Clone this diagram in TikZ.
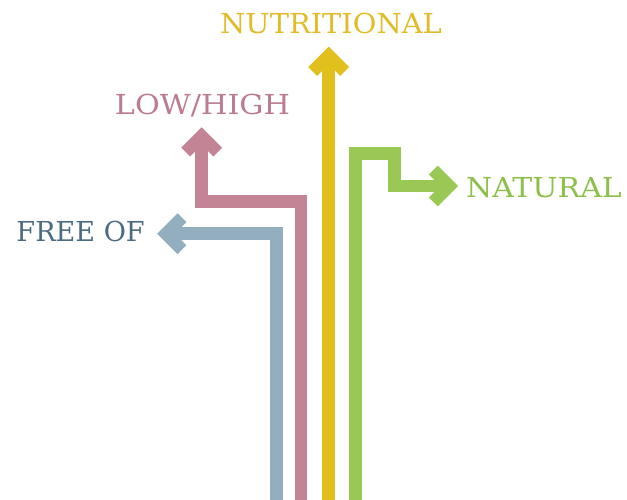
\documentclass[tikz,border=0pt]{standalone}
\usepackage{fontspec}
\setmainfont{DejaVu Serif}
\usetikzlibrary{calc}
\definecolor{cblue}{HTML}{93AEBF}
\definecolor{cpink}{HTML}{C38595}
\definecolor{cyellow}{HTML}{E1BF1C}
\definecolor{cgreen}{HTML}{99C954}
\definecolor{tblue}{HTML}{4B6B82}
\definecolor{tpink}{HTML}{BA7C8E}
\definecolor{tyellow}{HTML}{E0BC28}
\definecolor{tgreen}{HTML}{8DBF4A}
\tikzset{
  band/.style={line width=12.5pt, line join=miter, line cap=butt},
  lbl/.style={inner sep=0pt, font=\fontsize{27.5}{27.5}\selectfont},
}
\begin{document}
\begin{tikzpicture}[x=1pt,y=-1pt]
\useasboundingbox (0,0) rectangle (627,500);
% start points and tips
\coordinate (b0) at (276.7,500);
\coordinate (bt) at (166,233.7);
\coordinate (p0) at (301,500);
\coordinate (pc) at (201.7,201.7);
\coordinate (pt) at (201.7,136.1);
\coordinate (y0) at (328.7,500);
\coordinate (yt) at (328.7,55.5);
\coordinate (g0) at (355.3,500);
\coordinate (g1) at (394.7,153.7);
\coordinate (gt) at (449.3,186);
% labels
\node[lbl, text=tyellow, anchor=base] (nut) at (331,33.3) {\scalebox{1.05}[1]{NUTRITIONAL}};
\node[lbl, text=tpink, anchor=base] (low) at (202.5,115) {\scalebox{1.10}[1]{LOW/HIGH}};
\node[lbl, text=tgreen, anchor=base west] (nat) at (466,198) {\scalebox{1.09}[1]{NATURAL}};
\node[lbl, text=tblue, anchor=base east] (free) at (145,241.7) {\scalebox{0.985}[1]{FREE OF}};
% bands
\draw[band, cblue] (b0) |- (bt);
\draw[band, cblue] ($(bt)+(16,-16)$) -- (bt) -- ($(bt)+(16,16)$);
\draw[band, cpink] (p0) |- (pc) -- (pt);
\draw[band, cpink] ($(pt)+(-16,16)$) -- (pt) -- ($(pt)+(16,16)$);
\draw[band, cyellow] (y0) -- (yt);
\draw[band, cyellow] ($(yt)+(-16,16)$) -- (yt) -- ($(yt)+(16,16)$);
\draw[band, cgreen] (g0) |- (g1) |- (gt);
\draw[band, cgreen] ($(gt)+(-16,-16)$) -- (gt) -- ($(gt)+(-16,16)$);
\end{tikzpicture}
\end{document}
